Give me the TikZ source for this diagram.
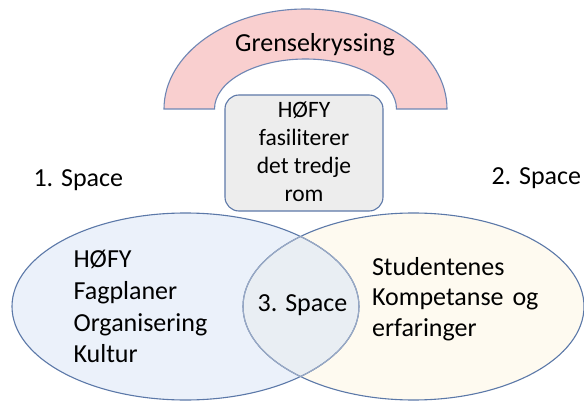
\documentclass[tikz,border=0pt]{standalone}
\usepackage{fontspec}
\setmainfont{Carlito}
\definecolor{leftfill}{HTML}{EBF1FA}
\definecolor{rightfill}{HTML}{FEFAF0}
\definecolor{lensfill}{HTML}{E9EEF3}
\definecolor{edge}{HTML}{5B78A8}
\definecolor{edgelight}{HTML}{9AAAC5}
\definecolor{arcfill}{HTML}{F9CFCF}
\definecolor{arcedge}{HTML}{6E86B4}
\definecolor{boxfill}{HTML}{EDEDED}
\definecolor{boxedge}{HTML}{5E79A9}
\tikzset{
  bigtext/.style={font=\fontsize{26}{31.7}\selectfont, inner sep=0pt},
  boxtext/.style={font=\fontsize{23.5}{28}\selectfont, inner sep=0pt, align=center},
  blocktext/.style={bigtext, align=left},
}
\begin{document}
\begin{tikzpicture}[x=1pt, y=-1pt, line width=1.1pt]
  \useasboundingbox (0,0) rectangle (584,401);
  \fill[white] (0,0) rectangle (584,401);

  % the two overlapping spaces
  \def\leftell{(185.5,306.5) ellipse [x radius=173.5, y radius=93.5]}
  \def\rightell{(413.5,306.5) ellipse [x radius=170.5, y radius=93.5]}
  \fill[leftfill] \leftell;
  \fill[rightfill] \rightell;
  \begin{scope}
    \clip \leftell;
    \fill[lensfill] \rightell;
  \end{scope}
  \draw[edge] \leftell;
  \draw[edge] \rightell;
  \begin{scope}
    \clip \rightell;
    \draw[edgelight] \leftell;
  \end{scope}
  \begin{scope}
    \clip \leftell;
    \draw[edgelight] \rightell;
  \end{scope}

  % block arc on top
  \draw[arcedge, fill=arcfill]
    (164,109) arc [start angle=180, end angle=360, x radius=141.5, y radius=100]
    -- (396.5,109) arc [start angle=0, end angle=-180, x radius=91, y radius=50]
    -- cycle;
  \node[bigtext, anchor=base] (grense) at (315,52) {Grensekryssing};

  % central box
  \node[draw=boxedge, fill=boxfill, rounded corners=14pt, minimum width=158pt,
        minimum height=116pt, inner sep=0pt] (box) at (304,153) {};
  \node[boxtext, anchor=base] (boxlabel) at (304,201) {HØFY\\fasiliterer\\det tredje\\rom};

  % labels
  \node[bigtext, anchor=base west] (space1) at (33,186) {1. Space};
  \node[bigtext, anchor=base west] (space2) at (491,185) {2. Space};
  \node[bigtext, anchor=base] (space3) at (302.5,311.5) {3. Space};

  \node[blocktext, anchor=base west] (lefttext) at (73,362.7)
    {HØFY\\Fagplaner\\Organisering\\Kultur};
  \node[blocktext, anchor=base west, font=\fontsize{26}{30.8}\selectfont] (righttext) at (371.5,336.7)
    {Studentenes\\Kompetanse\hspace{3pt} og\\erfaringer};
\end{tikzpicture}
\end{document}
